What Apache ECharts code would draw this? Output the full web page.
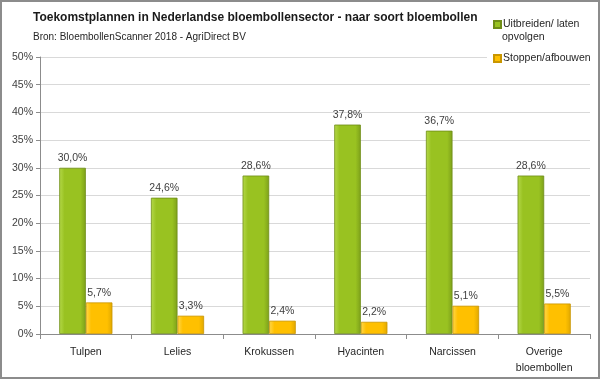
<!DOCTYPE html>
<html><head><meta charset="utf-8">
<script src="https://cdn.jsdelivr.net/npm/echarts@6/dist/echarts.min.js"></script>
<style>html,body{margin:0;padding:0;background:#fff}#w{position:relative;width:600px;height:379px}#c{width:600px;height:379px}#f{position:absolute;left:0;top:0;width:600px;height:379px;box-sizing:border-box;border:2px solid #8c8c8c;pointer-events:none}</style>
</head><body><div id="w"><div id="c"></div><div id="f"></div></div>
<script>
const categories = ['Tulpen', 'Lelies', 'Krokussen', 'Hyacinten', 'Narcissen', 'Overige\nbloembollen'];
const uitbreiden = [30.0, 24.6, 28.6, 37.8, 36.7, 28.6];
const stoppen = [5.7, 3.3, 2.4, 2.2, 5.1, 5.5];
const seriesNames = ['Uitbreiden/ laten', 'Stoppen/afbouwen'];
const legendExtra = 'opvolgen';
const titleText = 'Toekomstplannen in Nederlandse bloembollensector - naar soort bloembollen';
const subText = 'Bron: BloembollenScanner 2018 - AgriDirect BV';

const font = 'Liberation Sans';
const fs = 10.5;
const chart = echarts.init(document.getElementById('c'));
const fmt = p => p.value.toFixed(1).replace('.', ',') + '%';
function grad(light, mid, dark) {
  return new echarts.graphic.LinearGradient(0, 0, 1, 0, [
    {offset: 0, color: light}, {offset: 0.2, color: mid}, {offset: 0.8, color: mid}, {offset: 1, color: dark}
  ]);
}
const legendCommon = {
  orient: 'vertical', itemWidth: 7, itemHeight: 7, icon: 'rect', padding: 0,
  textStyle: {fontFamily: font, fontSize: fs, color: '#262626', padding: [0, 0, 0, -3]}
};
chart.setOption({
  animation: false,
  textStyle: {fontFamily: font},
  title: [
    {text: titleText, left: 33, top: 12, padding: 0, textStyle: {fontFamily: font, fontSize: 12, fontWeight: 'bold', color: '#1a1a1a'}},
    {text: subText, left: 33, top: 32, padding: 0, textStyle: {fontFamily: font, fontSize: 10, fontWeight: 'normal', color: '#262626'}}
  ],
  graphic: [
    {type: 'rect', left: 487, top: 10, shape: {width: 103, height: 58}, style: {fill: '#fff'}, z: 5},
    {type: 'text', left: 502, top: 32, style: {text: legendExtra, font: fs + 'px "' + font + '"', fill: '#262626'}, z: 6}
  ],
  legend: [
    Object.assign({}, legendCommon, {left: 493, top: 19, data: [seriesNames[0]], z: 7}),
    Object.assign({}, legendCommon, {left: 493, top: 53, data: [seriesNames[1]], z: 7})
  ],
  grid: {left: 40, right: 10, top: 57, bottom: 45},
  xAxis: {
    type: 'category', data: categories,
    axisLine: {lineStyle: {color: '#8c8c8c'}},
    axisTick: {show: true, length: 5, lineStyle: {color: '#8c8c8c'}},
    axisLabel: {fontFamily: font, fontSize: fs, color: '#262626', margin: 10, lineHeight: 16}
  },
  yAxis: {
    type: 'value', min: 0, max: 50, interval: 5,
    axisLine: {show: true, lineStyle: {color: '#8c8c8c'}},
    axisTick: {show: true, length: 4, lineStyle: {color: '#8c8c8c'}},
    splitLine: {lineStyle: {color: '#d9d9d9'}},
    axisLabel: {formatter: '{value}%', fontFamily: font, fontSize: fs, color: '#404040', margin: 7}
  },
  series: [
    {name: seriesNames[0], type: 'bar', data: uitbreiden, barGap: '0%', barCategoryGap: '42%',
     itemStyle: {color: grad('#b5d94a', '#99c221', '#7da01a'), borderColor: '#6f8d17', borderWidth: 0.8},
     label: {show: true, position: 'top', distance: 4, formatter: fmt, fontFamily: font, fontSize: fs, color: '#404040'}},
    {name: seriesNames[1], type: 'bar', data: stoppen,
     itemStyle: {color: grad('#ffd84d', '#ffc000', '#e0a800'), borderColor: '#c99600', borderWidth: 0.8},
     label: {show: true, position: 'top', distance: 4, formatter: fmt, fontFamily: font, fontSize: fs, color: '#404040'}}
  ]
});
</script></body></html>
